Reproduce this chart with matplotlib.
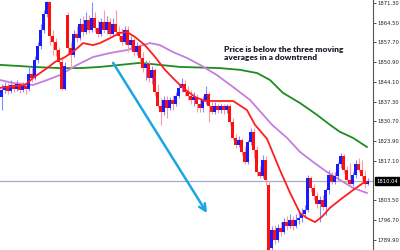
import matplotlib
matplotlib.use("Agg")
import matplotlib.pyplot as plt
import numpy as np

# candle data (open, high, low, close), one bar per slot
opens = [1839.0, 1841.4, 1842.8, 1841.0, 1843.1, 1841.7, 1843.4, 1841.4, 1842.8, 1841.7,
         1846.9, 1845.5, 1851.7, 1856.5, 1862.0, 1867.5, 1871.6, 1859.9, 1857.9, 1855.1,
         1851.0, 1841.7, 1867.1, 1855.8, 1853.4, 1860.6, 1859.2, 1864.1, 1861.3, 1865.4,
         1862.0, 1866.1, 1862.7, 1860.6, 1864.7, 1862.0, 1864.7, 1860.6, 1864.1, 1861.3,
         1859.9, 1857.9, 1862.0, 1856.8, 1858.6, 1854.4, 1856.5, 1852.4, 1848.9, 1850.3,
         1845.5, 1848.3, 1840.7, 1835.9, 1833.8, 1837.9, 1835.2, 1837.9, 1836.6, 1839.3,
         1842.1, 1843.4, 1840.7, 1839.3, 1837.9, 1839.0, 1836.6, 1835.2, 1837.9, 1840.0,
         1835.9, 1833.8, 1835.9, 1834.5, 1835.9, 1834.5, 1835.9, 1830.4, 1824.9, 1822.5,
         1824.2, 1820.1, 1816.7, 1823.5, 1827.0, 1820.8, 1813.2, 1811.9, 1817.3, 1808.8,
         1787.1, 1793.3, 1789.9, 1794.0, 1792.6, 1796.0, 1794.7, 1796.7, 1794.7, 1796.7,
         1797.4, 1798.8, 1800.2, 1811.2, 1807.7, 1805.0, 1802.2, 1803.6, 1801.2, 1807.0,
         1812.2, 1809.8, 1811.9, 1816.0, 1818.7, 1813.9, 1810.5, 1809.1, 1812.2, 1816.0,
         1813.9, 1811.9, 1809.1]
highs = [1843.4, 1844.1, 1843.8, 1844.8, 1844.1, 1844.8, 1844.1, 1844.1, 1843.8, 1849.6,
         1848.9, 1853.1, 1857.9, 1864.1, 1868.9, 1872.0, 1872.0, 1862.0, 1859.2, 1856.2,
         1852.4, 1851.0, 1868.2, 1857.9, 1862.0, 1863.4, 1866.1, 1866.8, 1868.2, 1867.1,
         1871.6, 1868.2, 1865.4, 1866.1, 1868.9, 1866.8, 1866.1, 1866.1, 1868.9, 1863.4,
         1862.7, 1863.4, 1863.4, 1859.9, 1859.2, 1857.9, 1857.2, 1854.4, 1851.7, 1851.7,
         1849.6, 1848.9, 1843.4, 1838.6, 1839.3, 1839.3, 1839.0, 1839.7, 1840.7, 1843.4,
         1845.5, 1844.8, 1842.8, 1841.4, 1840.7, 1840.0, 1838.6, 1839.3, 1842.8, 1840.7,
         1837.3, 1837.3, 1836.6, 1836.6, 1836.6, 1836.6, 1836.6, 1831.8, 1826.3, 1825.6,
         1824.9, 1822.2, 1824.2, 1828.3, 1828.3, 1822.2, 1815.3, 1819.1, 1818.7, 1809.8,
         1794.7, 1795.0, 1795.4, 1796.0, 1797.4, 1798.1, 1798.8, 1798.1, 1798.8, 1799.5,
         1800.9, 1801.9, 1812.2, 1811.9, 1809.1, 1806.3, 1805.0, 1805.3, 1807.7, 1813.9,
         1813.2, 1813.2, 1816.7, 1819.7, 1819.4, 1815.3, 1816.3, 1813.2, 1817.3, 1818.0,
         1817.3, 1813.9, 1811.2]
lows = [1834.5, 1840.4, 1840.0, 1840.4, 1840.7, 1841.0, 1840.4, 1840.7, 1840.0, 1841.0,
        1844.1, 1844.8, 1850.7, 1855.5, 1861.0, 1866.5, 1856.8, 1853.4, 1853.1, 1850.3,
        1841.4, 1841.4, 1853.4, 1848.9, 1852.7, 1857.9, 1858.6, 1859.9, 1860.6, 1861.0,
        1861.3, 1861.3, 1859.6, 1859.9, 1861.0, 1860.6, 1859.9, 1859.9, 1860.3, 1858.6,
        1856.8, 1857.2, 1854.4, 1855.1, 1853.1, 1853.4, 1851.0, 1847.6, 1844.8, 1844.1,
        1843.4, 1839.3, 1835.2, 1829.4, 1832.8, 1831.8, 1834.5, 1834.5, 1835.9, 1838.6,
        1840.7, 1839.3, 1837.9, 1836.6, 1835.9, 1833.8, 1833.8, 1833.8, 1836.6, 1830.4,
        1833.1, 1833.1, 1833.5, 1833.5, 1833.1, 1833.5, 1829.4, 1824.2, 1821.5, 1821.8,
        1819.1, 1816.0, 1816.0, 1822.5, 1818.0, 1811.9, 1811.2, 1811.2, 1808.8, 1785.0,
        1785.7, 1788.5, 1789.2, 1791.2, 1791.9, 1793.3, 1794.0, 1793.3, 1794.0, 1795.4,
        1796.0, 1797.4, 1799.5, 1806.3, 1803.6, 1800.9, 1796.0, 1800.2, 1798.4, 1805.7,
        1809.1, 1809.1, 1810.5, 1814.6, 1812.9, 1809.8, 1808.4, 1808.4, 1811.2, 1813.2,
        1810.5, 1807.7, 1808.8]
closes = [1841.4, 1842.8, 1841.0, 1843.1, 1841.7, 1843.4, 1841.4, 1842.8, 1841.7, 1846.9,
          1845.5, 1851.7, 1856.5, 1862.0, 1867.5, 1871.6, 1859.9, 1857.9, 1855.1, 1851.0,
          1841.7, 1849.6, 1855.8, 1853.4, 1860.6, 1859.2, 1864.1, 1861.3, 1865.4, 1862.0,
          1866.1, 1862.7, 1860.6, 1864.7, 1862.0, 1864.7, 1860.6, 1864.1, 1861.3, 1859.9,
          1857.9, 1862.0, 1856.8, 1858.6, 1854.4, 1856.5, 1852.4, 1848.9, 1850.3, 1845.5,
          1848.3, 1840.7, 1835.9, 1833.8, 1837.9, 1835.2, 1837.9, 1836.6, 1839.3, 1842.1,
          1843.4, 1840.7, 1839.3, 1837.9, 1839.0, 1836.6, 1835.2, 1837.9, 1840.0, 1835.9,
          1833.8, 1835.9, 1834.5, 1835.9, 1834.5, 1835.9, 1830.4, 1824.9, 1822.5, 1824.2,
          1820.1, 1816.7, 1823.5, 1827.0, 1820.8, 1813.2, 1811.9, 1817.3, 1810.5, 1786.0,
          1793.3, 1789.9, 1794.0, 1792.6, 1796.0, 1794.7, 1796.7, 1794.7, 1796.7, 1797.4,
          1798.8, 1800.2, 1811.2, 1807.7, 1805.0, 1802.2, 1803.6, 1801.2, 1807.0, 1812.2,
          1809.8, 1811.9, 1816.0, 1818.7, 1813.9, 1810.5, 1809.1, 1812.2, 1816.0, 1813.9,
          1811.9, 1809.1, 1810.04]

# moving averages (bar index, price)
fast_ma_x = [-0.5, 7.8, 10.5, 15.2, 17.8, 21.2, 24.5, 27.2, 30.5, 32.8, 36.2, 39.5, 41.8,
             44.5, 47.8, 51.2, 54.5, 57.8, 60.5, 64.5, 67.8, 72.8, 77.2, 81.8, 84.5, 88.5,
             92.8, 96.2, 99.5, 101.8, 104.5, 106.8, 109.5, 112.8, 117.2, 120.5, 121.8]
fast_ma = [1842.1, 1843.1, 1845.5, 1848.9, 1851.0, 1852.7, 1855.1, 1857.5, 1856.8, 1857.5,
           1859.2, 1861.0, 1861.3, 1859.6, 1856.8, 1852.7, 1848.3, 1844.8, 1842.1, 1839.0,
           1837.6, 1837.6, 1837.6, 1834.5, 1829.4, 1824.6, 1813.9, 1806.0, 1799.1, 1797.4,
           1796.0, 1797.8, 1800.9, 1803.6, 1807.0, 1809.4, 1809.8]
mid_ma_x = [-0.5, 3.8, 10.5, 15.2, 19.5, 25.2, 30.5, 36.2, 41.8, 46.2, 49.5, 52.8, 57.2,
            61.8, 66.2, 71.8, 77.2, 82.8, 90.2, 95.2, 99.5, 103.8, 108.5, 112.8, 117.2, 121.8]
mid_ma = [1844.8, 1843.8, 1843.1, 1844.8, 1846.5, 1850.0, 1852.7, 1854.1, 1855.1, 1856.5,
          1857.5, 1856.8, 1854.4, 1852.4, 1850.0, 1846.5, 1842.4, 1838.0, 1829.4, 1824.9,
          1820.1, 1816.7, 1813.2, 1810.5, 1807.7, 1806.0]
slow_ma_x = [-0.5, 6.2, 10.5, 19.5, 26.2, 32.8, 39.5, 46.2, 52.8, 59.5, 72.8, 79.5, 85.2,
             89.5, 93.8, 99.5, 105.2, 109.5, 112.8, 117.2, 121.8]
slow_ma = [1850.0, 1849.6, 1849.3, 1848.9, 1848.9, 1849.3, 1850.0, 1850.7, 1850.0, 1849.3,
           1848.9, 1848.3, 1847.2, 1844.8, 1840.4, 1836.9, 1832.8, 1829.4, 1827.0, 1824.9,
           1821.8]

yticks = [1871.30, 1864.50, 1857.70, 1850.90, 1844.10, 1837.30, 1830.70, 1823.90,
          1817.10, 1803.50, 1796.70, 1789.90]
last_price = 1810.04

o = np.array(opens)
c = np.array(closes)
h = np.array(highs)
l = np.array(lows)
x = np.arange(len(c))
up = c >= o

fig = plt.figure(figsize=(4, 2.5), dpi=100)
ax = fig.add_axes([0, 0, 373 / 400, 1])

ax.axhline(last_price, color="#a3acc8", lw=0.9, zorder=1)

ax.plot(slow_ma_x, slow_ma, color="#1e8c1e", lw=1.3, zorder=2)
ax.plot(mid_ma_x, mid_ma, color="#c47ee0", lw=1.3, zorder=2)

ax.vlines(x[up], l[up], h[up], color="#8a8aff", lw=0.8, zorder=3)
ax.vlines(x[~up], l[~up], h[~up], color="#ff9a9a", lw=0.8, zorder=3)
ax.bar(x[up], c[up] - o[up], bottom=o[up], width=0.7, color="#1a1aff", zorder=4)
ax.bar(x[~up], c[~up] - o[~up], bottom=o[~up], width=0.7, color="#ff1010", zorder=4)

ax.plot(fast_ma_x, fast_ma, color="#ff1e1e", lw=1.3, zorder=5)

ax.annotate("", xy=(68.5, 1799.1), xytext=(37.2, 1850.7),
            arrowprops=dict(arrowstyle="->", color="#1ba6e2", lw=1.8,
                            mutation_scale=12, shrinkA=0, shrinkB=0), zorder=6)

ax.text(74.2, 1856.6, "Price is below the three moving\naverages in a downtrend",
        fontsize=6.0, fontweight="heavy", family="Lato", color="#1f1f2b",
        va="top", ha="left", linespacing=1.3)

ax.set_xlim(-0.5, 123.83)
ax.set_ylim(1786.4, 1872.3)
for s in ["left", "top", "bottom"]:
    ax.spines[s].set_visible(False)
ax.spines["right"].set_color("#555555")
ax.spines["right"].set_linewidth(0.8)
ax.set_xticks([])
ax.yaxis.tick_right()
ax.set_yticks(yticks)
ax.set_yticklabels(["%.2f" % v for v in yticks])
ax.tick_params(axis="y", length=2, width=0.6, pad=1.5, labelsize=3.8,
               colors="#333333", labelcolor="#222222")

ax.text(1.0 + 3 / 373, last_price, "%.2f" % last_price, transform=ax.get_yaxis_transform(),
        fontsize=3.8, color="white", va="center", ha="left",
        bbox=dict(boxstyle="square,pad=0.25", fc="black", ec="black"))

fig.savefig("out.png", dpi=100)
